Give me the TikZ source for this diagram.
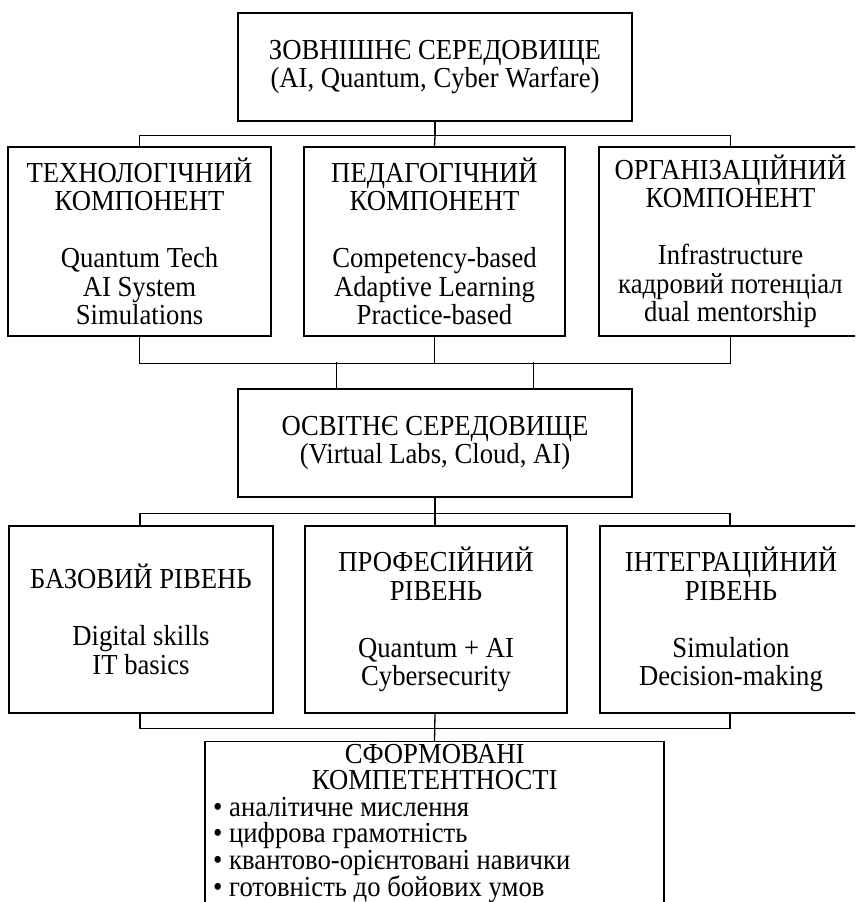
\documentclass[tikz,border=0pt]{standalone}
\usepackage{fontspec}
\setmainfont{Liberation Serif}[FakeStretch=0.92]
\begin{document}
\begin{tikzpicture}[x=1pt,y=-1pt,
  box/.style={draw, line width=1.3pt, inner sep=0pt, align=center,
    font=\fontsize{29}{28.5}\selectfont},
  txt/.style={inner sep=0pt, font=\fontsize{29}{26.4}\selectfont},
  link/.style={line width=1.3pt}]
\clip (0,0) rectangle (855,902);
\fill[white] (0,0) rectangle (855,902);
% top
\node[box, minimum width=394pt, minimum height=108pt] (ext) at (435,67)
  {ЗОВНІШНЄ СЕРЕДОВИЩЕ\\(AI, Quantum, Cyber Warfare)};
% row 2
\node[box, minimum width=263pt, minimum height=189pt] (tech) at (139.5,241.5)
  {ТЕХНОЛОГІЧНИЙ\\КОМПОНЕНТ\\[28.5pt]Quantum Tech\\AI System\\Simulations};
\node[box, minimum width=261pt, minimum height=189pt] (ped) at (434.5,241.5)
  {ПЕДАГОГІЧНИЙ\\КОМПОНЕНТ\\[28.5pt]Competency-based\\Adaptive Learning\\Practice-based};
\node[box, minimum width=263pt, minimum height=189pt] (org) at (730.5,241.5)
  {ОРГАНІЗАЦІЙНИЙ\\КОМПОНЕНТ\\[28.5pt]Infrastructure\\кадровий потенціал\\dual mentorship};
% middle
\node[box, minimum width=394pt, minimum height=108pt] (edu) at (435,443)
  {ОСВІТНЄ СЕРЕДОВИЩЕ\\(Virtual Labs, Cloud, AI)};
% row 3
\node[box, minimum width=264pt, minimum height=187pt] (base) at (141,619.5)
  {БАЗОВИЙ РІВЕНЬ\\[28.5pt]Digital skills\\IT basics};
\node[box, minimum width=262pt, minimum height=187pt] (prof) at (436,619.5)
  {ПРОФЕСІЙНИЙ\\РІВЕНЬ\\[28.5pt]Quantum + AI\\Cybersecurity};
\node[box, minimum width=262pt, minimum height=187pt] (integ) at (731,619.5)
  {ІНТЕГРАЦІЙНИЙ\\РІВЕНЬ\\[28.5pt]Simulation\\Decision-making};
% bottom
\node[box, minimum width=459pt, minimum height=200pt, anchor=north] (comp) at (434.5,741) {};
\node[txt, align=left, anchor=north west] (compt) at (213,744)
  {\makebox[443pt]{СФОРМОВАНІ}\\\makebox[443pt]{КОМПЕТЕНТНОСТІ}\\• аналітичне мислення\\• цифрова грамотність\\• квантово-орієнтовані навички\\• готовність до бойових умов};
% connectors
\draw[link] (ext.south) -- ++(0,14) coordinate (bus1);
\draw[link] (tech.north) |- (bus1) -| (org.north);
\draw[link] (bus1) -- (ped.north);
\draw[link] (tech.south) -- ++(0,27) coordinate (bus2l) -| (org.south);
\draw[link] (ped.south) -- ++(0,27);
\draw[link] ([xshift=-98.5pt]edu.north) -- ++(0,-26);
\draw[link] ([xshift=98.5pt]edu.north) -- ++(0,-26);
\draw[link] (edu.south) -- ++(0,16) coordinate (bus3);
\draw[link] ([xshift=-1pt]base.north) |- (bus3) -| ([xshift=-1pt]integ.north);
\draw[link] (bus3) -- ([xshift=-1pt]prof.north);
\draw[link] ([xshift=-1pt]base.south) -- ++(0,15) coordinate (bus4l) -| ([xshift=-1pt]integ.south);
\draw[link] ([xshift=-1pt]prof.south) -- (comp.north);
\end{tikzpicture}
\end{document}
